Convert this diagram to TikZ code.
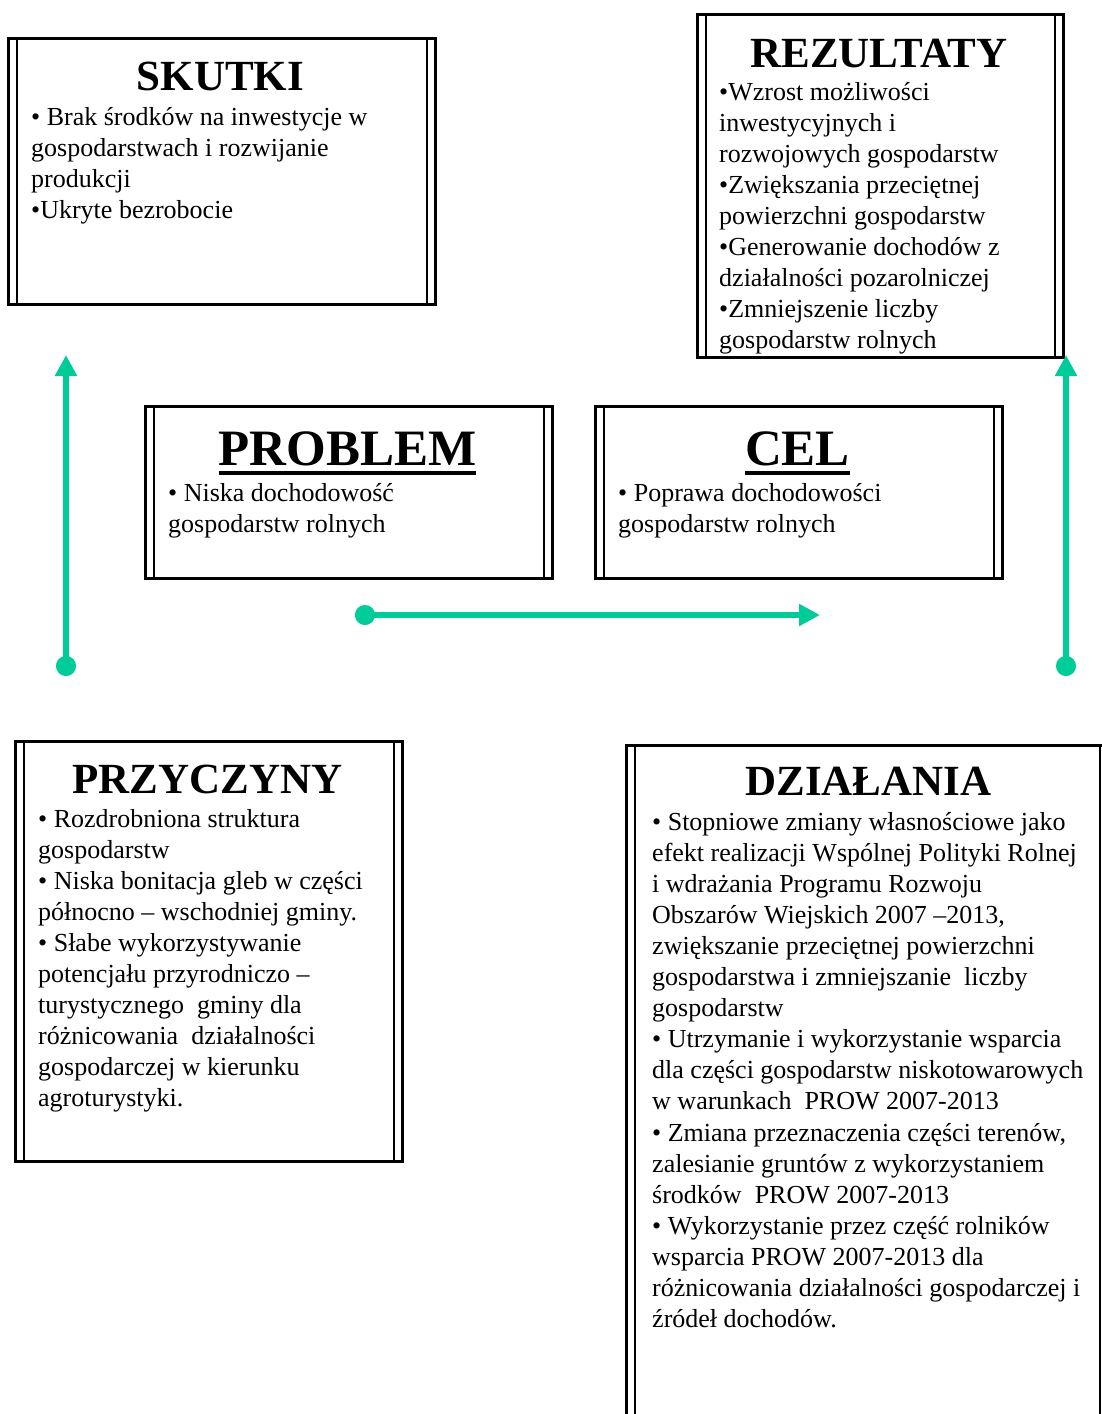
\documentclass[tikz,border=0pt]{standalone}
\usepackage{fontspec}
\setmainfont{Liberation Serif}
\usetikzlibrary{arrows.meta}

\definecolor{arrowgreen}{RGB}{0,204,153}
\newcommand{\ulword}[1]{\vtop{\hbox{#1}\kern5pt\hrule height 4pt}}

\tikzset{
  framebox/.style={draw, line width=2.6pt, anchor=north west, inner sep=0pt,
    path picture={
      \draw[line width=2pt] ([xshift=8.5pt]path picture bounding box.north west) -- ([xshift=8.5pt]path picture bounding box.south west);
      \draw[line width=2pt] ([xshift=-8.5pt]path picture bounding box.north east) -- ([xshift=-8.5pt]path picture bounding box.south east);
    }},
  titletext/.style={font=\fontsize{43}{48}\selectfont\bfseries, anchor=base, inner sep=0pt},
  bigtitle/.style={font=\fontsize{51}{56}\selectfont\bfseries, anchor=base, inner sep=0pt},
  bodytext/.style={font=\fontsize{26}{31.1}\selectfont, align=left, anchor=base west, inner sep=0pt},
  flow/.style={draw=arrowgreen, line width=6pt, {Circle[length=20pt,width=20pt]}-{Triangle[length=21pt,width=21pt]}}
}

\begin{document}
\begin{tikzpicture}[x=1pt,y=-1pt]
   \path[use as bounding box, clip] (0,0) rectangle (1102,1414);

   \node[framebox, minimum width=427pt, minimum height=266pt] (skutki) at (7,37) {};
   \node[framebox, minimum width=366pt, minimum height=343pt] (rezultaty) at (696,13) {};
   \node[framebox, minimum width=407pt, minimum height=172pt] (problem) at (144,405) {};
   \node[framebox, minimum width=407pt, minimum height=172pt] (cel) at (594,405) {};
   \node[framebox, minimum width=387pt, minimum height=420pt] (przyczyny) at (14,740) {};
   \node[framebox, minimum width=482pt, minimum height=700pt] (dzialania) at (625,744) {};

   \node[titletext] (skutkiT) at (220.5,90) {SKUTKI};
   \node[titletext] (rezultatyT) at (879,67) {REZULTATY};
   \node[bigtitle] (problemT) at (347.5,465) {\ulword{PROBLEM}};
   \node[bigtitle] (celT) at (797.5,465) {\ulword{CEL}};
   \node[titletext] (przyczynyT) at (207.5,793) {PRZYCZYNY};
   \node[titletext] (dzialaniaT) at (868.5,795) {DZIAŁANIA};

   % body texts sit on the baseline of their last line
   \node[bodytext] (skutkiB) at (31,218.3) {• Brak środków na inwestycje w\\gospodarstwach i rozwijanie\\produkcji\\•Ukryte bezrobocie};
   \node[bodytext] (rezultatyB) at (719,348.8) {•Wzrost możliwości\\inwestycyjnych i\\rozwojowych gospodarstw\\•Zwiększania przeciętnej\\powierzchni gospodarstw\\•Generowanie dochodów z\\działalności pozarolniczej\\•Zmniejszenie liczby\\gospodarstw rolnych};
   \node[bodytext] (problemB) at (168,532.1) {• Niska dochodowość\\gospodarstw rolnych};
   \node[bodytext] (celB) at (618,532.1) {• Poprawa dochodowości\\gospodarstw rolnych};
   \node[bodytext] (przyczynyB) at (38,1106.9) {• Rozdrobniona struktura\\gospodarstw\\• Niska bonitacja gleb w części\\północno – wschodniej gminy.\\• Słabe wykorzystywanie\\potencjału przyrodniczo –\\turystycznego\ \ gminy dla\\różnicowania\ \ działalności\\gospodarczej w kierunku\\agroturystyki.};
   \node[bodytext] (dzialaniaB) at (652,1327.6) {• Stopniowe zmiany własnościowe jako\\efekt realizacji Wspólnej Polityki Rolnej\\i wdrażania Programu Rozwoju\\Obszarów Wiejskich 2007 –2013,\\zwiększanie przeciętnej powierzchni\\gospodarstwa i zmniejszanie\ \ liczby\\gospodarstw\\• Utrzymanie i wykorzystanie wsparcia\\dla części gospodarstw niskotowarowych\\w warunkach\ \ PROW 2007-2013\\• Zmiana przeznaczenia części terenów,\\zalesianie gruntów z wykorzystaniem\\środków\ \ PROW 2007-2013\\• Wykorzystanie przez część rolników\\wsparcia PROW 2007-2013 dla\\różnicowania działalności gospodarczej i\\źródeł dochodów.};

   \coordinate (leftS) at (66,676);
   \coordinate (leftE) at (66,355);
   \coordinate (midS) at (355,615);
   \coordinate (midE) at (820,615);
   \coordinate (rightS) at (1066,676);
   \coordinate (rightE) at (1066,355);

   \path[flow] (leftS) -- (leftE);
   \path[flow] (midS) -- (midE);
   \path[flow] (rightS) -- (rightE);

\end{tikzpicture}
\end{document}
